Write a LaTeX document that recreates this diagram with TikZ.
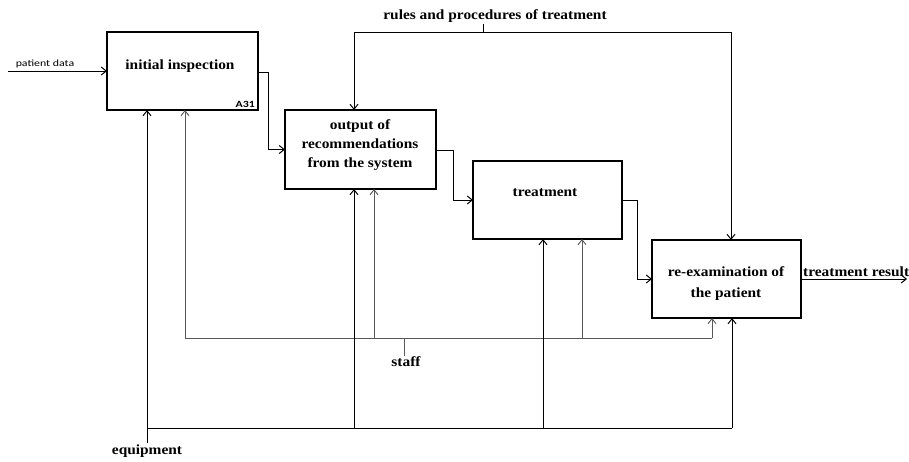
\documentclass[tikz,border=0pt]{standalone}
\usepackage{fontspec}
\setmainfont{Liberation Serif}[FakeStretch=1.1]
\newfontfamily\smallsans{Carlito}[FakeStretch=1.25]
\usetikzlibrary{arrows.meta,calc}
\begin{document}
\begin{tikzpicture}[x=1pt,y=-1pt,
 box/.style={draw,line width=2.6pt,inner sep=0pt,outer sep=0pt},
 boxtext/.style={font=\bfseries\fontsize{14}{19}\selectfont,align=center,inner sep=0pt},
 lbl/.style={font=\bfseries\fontsize{14}{15}\selectfont,inner sep=1pt},
 small/.style={font=\smallsans\fontsize{9.5}{11}\selectfont,inner sep=0pt},
 conn/.style={line width=1pt},
 arr/.style={-{Straight Barb[length=5pt,width=8pt]}},
 soft/.style={draw=black!65,line width=0.9pt}
]
\useasboundingbox (0,0) rectangle (909,461);

% boxes
\node[box,minimum width=151pt,minimum height=78pt] (a1) at (182.5,71) {};
\node[box,minimum width=151pt,minimum height=79pt] (a2) at (360.5,149.5) {};
\node[box,minimum width=149pt,minimum height=78pt] (a3) at (547.5,200) {};
\node[box,minimum width=149pt,minimum height=78pt] (a4) at (726.5,279) {};

\node[boxtext] (t1) at (180,66) {initial inspection};
\node[boxtext] (t2) at (360,145) {output of\\recommendations\\from the system};
\node[boxtext] (t3) at (545,193) {treatment};
\node[boxtext,font=\bfseries\fontsize{14}{21}\selectfont] (t4) at (726,283.5) {re-examination of\\the patient};
\node[small,font=\smallsans\bfseries\fontsize{9.5}{11}\selectfont,anchor=south east] (id) at (255,108) {A31};

% input
\coordinate (pd) at (8,71);
\node[small] (pdl) at (45,64) {patient data};
\draw[conn,arr] (pd) -- (pd -| a1.west);

% flow between boxes
\coordinate (f1) at (268,72);
\coordinate (f2) at (453,150);
\coordinate (f3) at (637,200);
\draw[conn,arr] (a1.east |- f1) -- (f1) |- (a2.west);
\draw[conn,arr] (a2.east |- f2) -- (f2) |- (a3.west);
\draw[conn,arr] (a3.east) -- (f3) |- (a4.west);

% output
\coordinate (out) at (907,279);
\draw[conn,arr] (a4.east) -- (out);
\node[lbl,anchor=base west,inner sep=0pt] (res) at (803,276) {treatment result};

% control
\node[lbl] (rules) at (495,16) {rules and procedures of treatment};
\coordinate (rj) at (483,32);
\coordinate (rl) at (354,32);
\coordinate (rr) at (731,32);
\draw[conn] (rules.south -| rj) -- (rj);
\draw[conn] (rl) -- (rr);
\draw[conn,arr] (rl) -- (rl |- a2.north);
\draw[conn,arr] (rr) -- (rr |- a4.north);

% staff
\coordinate (s1) at (185,338);
\coordinate (s2) at (374,338);
\coordinate (s3) at (582,338);
\coordinate (s4) at (712,338);
\coordinate (st) at (404,338);
\node[lbl] (staff) at (406,362) {staff};
\draw[soft] (s1) -- (s4);
\draw[soft] (st) -- (staff.north -| st);
\draw[soft,arr] (s1) -- (s1 |- a1.south);
\draw[soft,arr] (s2) -- (s2 |- a2.south);
\draw[soft,arr] (s3) -- (s3 |- a3.south);
\draw[soft,arr] (s4) -- (s4 |- a4.south);

% equipment
\coordinate (e1) at (147,428);
\coordinate (e2) at (354,428);
\coordinate (e3) at (543,428);
\coordinate (e4) at (732,428);
\node[lbl] (equip) at (147,451) {equipment};
\draw[conn] (e1) -- (e4);
\draw[conn] (e1) -- (equip.north -| e1);
\draw[conn,arr] (e1) -- (e1 |- a1.south);
\draw[conn,arr] (e2) -- (e2 |- a2.south);
\draw[conn,arr] (e3) -- (e3 |- a3.south);
\draw[conn,arr] (e4) -- (e4 |- a4.south);
\end{tikzpicture}
\end{document}
